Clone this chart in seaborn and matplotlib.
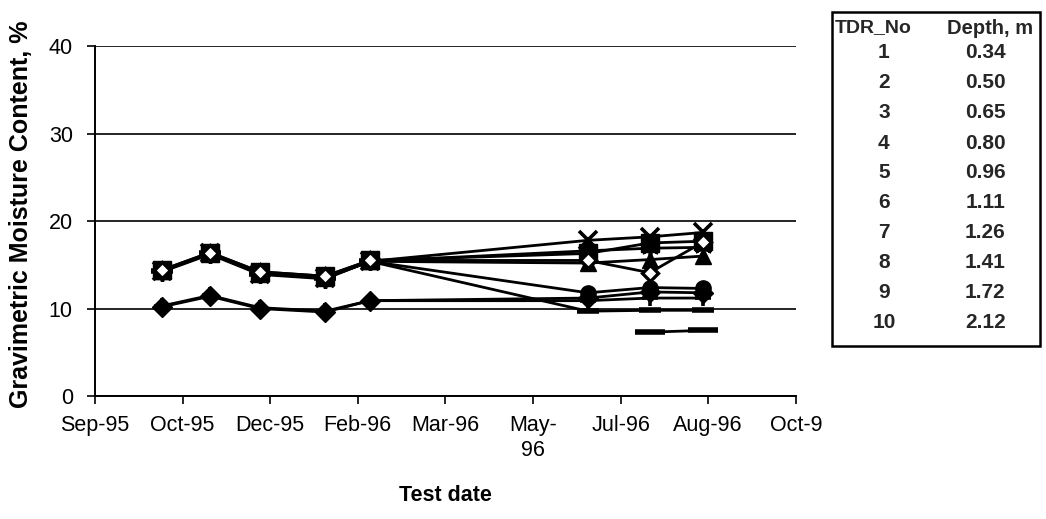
import matplotlib
matplotlib.use("Agg")
import matplotlib.pyplot as plt
import numpy as np
import pandas as pd
import seaborn as sns
from matplotlib.patches import Rectangle

# sampling dates
test_dates = ["1995-10-10", "1995-11-07", "1995-12-06", "1996-01-13",
              "1996-02-08", "1996-06-14", "1996-07-20", "1996-08-20"]

# gravimetric moisture content (%) per TDR probe
tdr1 = [10.2, 11.4, 10.0, 9.6, 10.9, 11.2, 11.9, 11.8]
tdr2 = [14.4, 16.4, 14.2, 13.7, 15.5, 16.3, 17.5, 17.7]
tdr3 = [14.3, 16.3, 14.0, 13.5, 15.4, 15.2, 15.6, 16.0]
tdr4 = [14.3, 16.3, 14.0, 13.5, 15.4, 17.8, 18.2, 18.7]
tdr5 = [14.2, 16.2, 13.9, 13.4, 15.4, 16.6, 16.9, 17.0]
tdr6 = [14.3, 16.3, 14.0, 13.5, 15.4, 11.8, 12.4, 12.3]
tdr7 = [10.3, 11.5, 10.1, 9.7, 10.9, 10.9, 11.2, 11.2]
tdr8 = [14.4, 16.4, 14.2, 13.7, 15.5, 15.5, 14.1, 17.6]
tdr9 = [14.3, 16.3, 14.0, 13.5, 15.4, 9.7, 9.8, 9.8]
tdr10 = [np.nan, np.nan, np.nan, np.nan, np.nan, np.nan, 7.3, 7.5]

# legend table
tdr_no = ["1", "2", "3", "4", "5", "6", "7", "8", "9", "10"]
depth_m = ["0.34", "0.50", "0.65", "0.80", "0.96", "1.11", "1.26", "1.41", "1.72", "2.12"]

# x axis
tick_dates = ["1995-09-01", "1995-10-22", "1995-12-12", "1996-02-01", "1996-03-23",
              "1996-05-13", "1996-07-03", "1996-08-23", "1996-10-13"]
tick_labels = ["Sep-95", "Oct-95", "Dec-95", "Feb-96", "Mar-96", "May-\n96",
               "Jul-96", "Aug-96", "Oct-9"]

sns.set_style("white")
plt.rcParams["font.family"] = ["Liberation Sans", "DejaVu Sans"]

dates = pd.to_datetime(test_dates)
series = {1: tdr1, 2: tdr2, 3: tdr3, 4: tdr4, 5: tdr5,
          6: tdr6, 7: tdr7, 8: tdr8, 9: tdr9, 10: tdr10}

# marker style per probe (black & white Excel look)
styles = {
    1: dict(marker="D", markersize=10, markerfacecolor="k"),
    2: dict(marker="s", markersize=12.5, markerfacecolor="k"),
    3: dict(marker="^", markersize=12, markerfacecolor="k"),
    4: dict(marker="x", markersize=13, markeredgewidth=2.6),
    5: dict(marker=(6, 2, 0), markersize=13, markeredgewidth=2.6),
    6: dict(marker="o", markersize=11, markerfacecolor="k"),
    7: dict(marker="+", markersize=12, markeredgewidth=2.6),
    8: dict(marker="D", markersize=8, markerfacecolor="w", markeredgewidth=2.4),
    9: dict(marker="_", markersize=16, markeredgewidth=4),
    10: dict(marker="_", markersize=22, markeredgewidth=4),
}
draw_order = [4, 5, 6, 7, 9, 10, 3, 2, 8, 1]

fig = plt.figure(figsize=(10.46, 5.19), dpi=100)
ax = fig.add_axes([0.0908, 0.237, 0.670, 0.674])

for k in draw_order:
    df = pd.DataFrame({"date": dates, "value": series[k]}).dropna()
    kw = dict(markeredgewidth=1.0)
    kw.update(styles[k])
    sns.lineplot(data=df, x="date", y="value", ax=ax, color="k", linewidth=2.0,
                 markeredgecolor="k", **kw)

ax.set_ylim(0, 40)
ax.set_yticks([0, 10, 20, 30, 40])
ax.set_xlim(pd.to_datetime(tick_dates[0]), pd.to_datetime(tick_dates[-1]))
ax.set_xticks(pd.to_datetime(tick_dates))
ax.set_xticklabels(tick_labels)

ax.grid(axis="y", color="k", linewidth=1.2)
ax.grid(axis="x", visible=False)
for side in ["top", "right"]:
    ax.spines[side].set_visible(False)
for side in ["left", "bottom"]:
    ax.spines[side].set_color("k")
    ax.spines[side].set_linewidth(1.4)

ax.tick_params(axis="both", which="major", direction="out", length=6, width=1.2,
               color="k", labelsize=15.5, labelcolor="k", bottom=True, left=True)
ax.tick_params(axis="x", pad=8)
ax.tick_params(axis="y", pad=10)

ax.set_ylabel("Gravimetric Moisture Content, %", fontsize=18, fontweight="bold", color="k")
ax.yaxis.set_label_coords(-0.088, 0.52)
ax.set_xlabel("Test date", fontsize=15.5, fontweight="bold", color="k")
ax.xaxis.set_label_coords(0.5, -0.255)

# table box with probe depths
fig.patches.append(Rectangle((0.7954, 0.333), 0.1985, 0.644, transform=fig.transFigure,
                             fill=False, edgecolor="k", linewidth=1.8))
fig.text(0.8345, 0.946, "TDR_No", ha="center", va="center", fontsize=14, fontweight="bold")
fig.text(0.9465, 0.946, "Depth, m", ha="center", va="center", fontsize=14.5, fontweight="bold")
for i, (n, d) in enumerate(zip(tdr_no, depth_m)):
    y = 1 - (53 + 30.0 * i) / 519
    fig.text(0.845, y, n, ha="center", va="center", fontsize=15, fontweight="bold")
    fig.text(0.942, y, d, ha="center", va="center", fontsize=15, fontweight="bold")

fig.savefig("out.png", dpi=100)
